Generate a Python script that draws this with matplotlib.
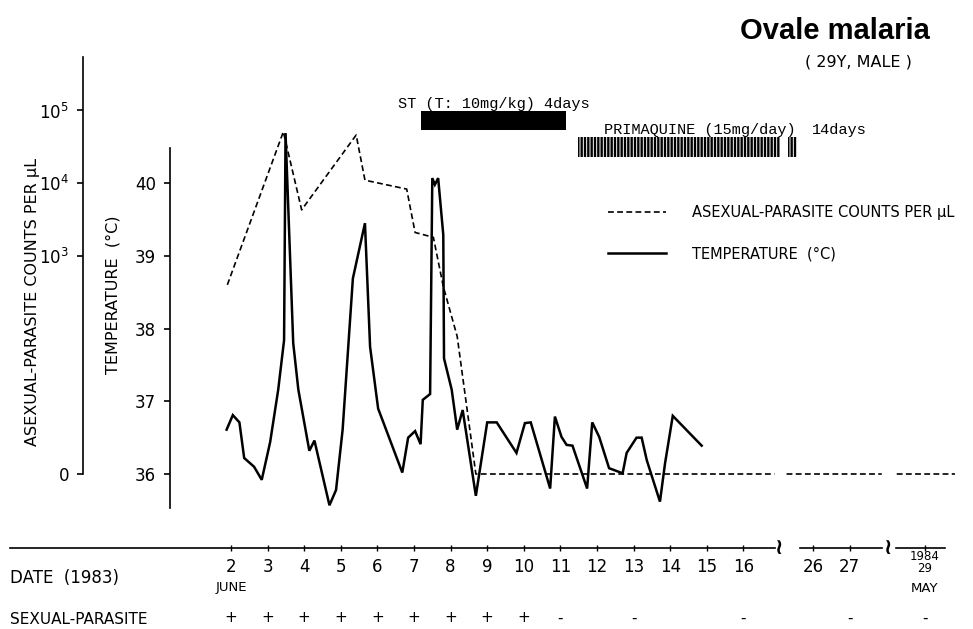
import matplotlib
matplotlib.use("Agg")
import matplotlib.pyplot as plt
from matplotlib.ticker import NullLocator
import numpy as np

# x positions are chart day positions: 2..16 = June 2..16, then the axis is broken
tick_lab = ["2", "3", "4", "5", "6", "7", "8", "9", "10", "11", "12", "13", "14",
            "15", "16", "26", "27", "1984\n29"]
tick_pos = [2, 3, 4, 5, 6, 7, 8, 9, 10, 11, 12, 13, 14, 15, 16, 17.9, 18.9, 20.96]

# body temperature (°C)
temp_day = [1.88, 2.05, 2.23, 2.36, 2.63, 2.84, 3.07, 3.29, 3.45, 3.49,
            3.70, 3.84, 4.14, 4.28, 4.69, 4.87, 5.05, 5.33, 5.66, 5.80,
            6.02, 6.68, 6.84, 7.03, 7.18, 7.24, 7.44, 7.50, 7.57, 7.66,
            7.80, 7.82, 8.03, 8.18, 8.33, 8.69, 9.00, 9.26, 9.80, 10.03,
            10.19, 10.72, 10.85, 11.03, 11.17, 11.33, 11.73, 11.87, 12.06, 12.33,
            12.70, 12.81, 13.08, 13.22, 13.36, 13.72, 13.86, 14.07, 14.86]
temp_c = [36.61, 36.81, 36.71, 36.22, 36.10, 35.92, 36.44, 37.16, 37.84, 40.69,
          37.80, 37.16, 36.32, 36.46, 35.57, 35.78, 36.61, 38.69, 39.45, 37.75,
          36.90, 36.02, 36.50, 36.59, 36.41, 37.02, 37.10, 40.07, 39.98, 40.07,
          39.29, 37.59, 37.16, 36.61, 36.88, 35.70, 36.71, 36.71, 36.29, 36.70,
          36.71, 35.80, 36.79, 36.51, 36.40, 36.39, 35.80, 36.71, 36.51, 36.08,
          36.01, 36.29, 36.50, 36.50, 36.19, 35.62, 36.15, 36.80, 36.39]

# asexual parasite counts per uL (nan = gap at the axis breaks)
para_day = [1.90, 3.43, 3.93, 5.42, 5.66, 6.80, 7.03, 7.53, 7.80, 8.18, 8.69,
            16.85, np.nan, 17.18, 19.78, np.nan, 20.19, 21.78]
para_count = [400, 51000, 4300, 46000, 11000, 8300, 2100, 1800, 380, 78, 0,
              0, np.nan, 0, 0, np.nan, 0, 0]

# sexual parasites
sex_dates = ["2", "3", "4", "5", "6", "7", "8", "9", "10", "11", "13", "16", "27", "1984\n29"]
sex_sign = ["+", "+", "+", "+", "+", "+", "+", "+", "+", "-", "-", "-", "-", "-"]

# treatment
st_start, st_days = 7.19, 3.96
pq_spans = [(11.48, 5.52), (17.22, 0.24)]

W, H = 973, 629
def px_day(px):
    return 2 + (px - 231) / 36.6
def fy(py):
    return (548 - py) / 548

fig = plt.figure(figsize=(W / 100, H / 100), dpi=100)
ax = fig.add_axes([10 / W, 1 - 548 / H, 950 / W, 548 / H])
ax.set_xlim(px_day(10), px_day(960))
ylo, yhi = 36 - 74 / 72.7, 36 + 474 / 72.7
ax.set_ylim(ylo, yhi)

ax.spines[["top", "right"]].set_visible(False)
ax.spines["left"].set_position(("data", px_day(170)))
ax.spines["left"].set_bounds(35.53, 40.49)
ax.spines["bottom"].set_bounds(px_day(10), px_day(775))
for s in ["left", "bottom"]:
    ax.spines[s].set_linewidth(1.2)

ax.set_yticks([36, 37, 38, 39, 40])
ax.tick_params(axis="y", direction="out", length=4, width=1.2, labelsize=12, pad=6)
ax.set_xticks(tick_pos)
ax.set_xticklabels(tick_lab[:-1] + [""])
ax.tick_params(axis="x", direction="inout", length=4, width=1, labelsize=12, pad=5)

tr = ax.get_xaxis_transform()
ax.text(tick_pos[-1], fy(550), tick_lab[-1], transform=tr, ha="center", va="top",
        fontsize=8.5, linespacing=0.85)

# rest of the broken date line
for a, b in [(800, 882), (896, 945)]:
    ax.plot([px_day(a), px_day(b)], [0, 0], color="k", lw=1.2, transform=tr, clip_on=False)
for p in [778, 887]:
    ax.text(px_day(p), 0, "≀", transform=tr, ha="center", va="center", fontsize=16,
            fontweight="bold")

l_temp, = ax.plot(temp_day, temp_c, color="k", lw=1.8, solid_joinstyle="miter")

# parasite axis (log)
ax2 = ax.twinx()
ax2.set_yscale("log")
ax2.set_ylim(10 ** (ylo - 36), 10 ** (yhi - 36))
ax2.spines[["top", "right", "bottom"]].set_visible(False)
ax2.spines["left"].set_visible(True)
ax2.spines["left"].set_position(("data", px_day(83)))
ax2.spines["left"].set_bounds(1, 10 ** 5.74)
ax2.spines["left"].set_linewidth(1.2)
ax2.yaxis.set_ticks_position("left")
ax2.set_yticks([1, 1e3, 1e4, 1e5])
ax2.set_yticklabels(["0", "$10^3$", "$10^4$", "$10^5$"])
ax2.yaxis.set_minor_locator(NullLocator())
ax2.tick_params(axis="y", direction="out", length=4, width=1.2, labelsize=12, pad=6)

l_para, = ax2.plot(para_day, np.maximum(para_count, 1), color="k", lw=1.2,
                   linestyle=(0, (3.5, 2)))

# treatment bars
ax.barh(40.86, st_days, left=st_start, height=0.26, color="k")
ax.text(st_start - 0.63, 40.99, "ST (T: 10mg/kg) 4days", ha="left", va="bottom",
        fontsize=11, family="Liberation Mono")
plt.rcParams["hatch.linewidth"] = 1.7
for left, w in pq_spans:
    ax.barh(40.50, w, left=left, height=0.28, color="white", edgecolor="k",
            linewidth=0, hatch="|||||")
ax.text(px_day(604), 40.73, "PRIMAQUINE (15mg/day)", ha="left", va="center",
        fontsize=11, family="Liberation Mono")
ax.text(px_day(812), 40.73, "14days", ha="left", va="center",
        fontsize=11, family="Liberation Mono")

ax.legend([l_para, l_temp], ["ASEXUAL-PARASITE COUNTS PER μL", "TEMPERATURE  (°C)"],
          loc="upper left", bbox_to_anchor=(608 / W, 1 - 205 / H), bbox_transform=fig.transFigure,
          frameon=False, handlelength=4.0, handletextpad=1.75, labelspacing=1.8,
          borderpad=0, borderaxespad=0, fontsize=10.5)

# titles and labels
fig.text(930 / W, 1 - 31 / H, "Ovale malaria", ha="right", va="center", fontsize=21,
         fontweight="bold", family="Liberation Sans")
fig.text(858 / W, 1 - 62 / H, "( 29Y, MALE )", ha="center", va="center", fontsize=11.5)
fig.text(33 / W, 1 - 302 / H, "ASEXUAL-PARASITE COUNTS PER μL", rotation=90,
         ha="center", va="center", fontsize=11.5)
fig.text(113 / W, 1 - 295 / H, "TEMPERATURE  (°C)", rotation=90,
         ha="center", va="center", fontsize=11.5)
fig.text(10 / W, 1 - 578 / H, "DATE  (1983)", ha="left", va="center", fontsize=12)
fig.text(10 / W, 1 - 620 / H, "SEXUAL-PARASITE", ha="left", va="center", fontsize=11)
ax.text(tick_pos[0], fy(588), "JUNE", transform=tr, ha="center", va="center", fontsize=9.5)
ax.text(tick_pos[-1], fy(588), "MAY", transform=tr, ha="center", va="center", fontsize=9.5)

pos = dict(zip(tick_lab, tick_pos))
for d, s in zip(sex_dates, sex_sign):
    ax.text(pos[d], fy(618), s, transform=tr, ha="center", va="center", fontsize=11)

fig.savefig("out.png", dpi=100)
